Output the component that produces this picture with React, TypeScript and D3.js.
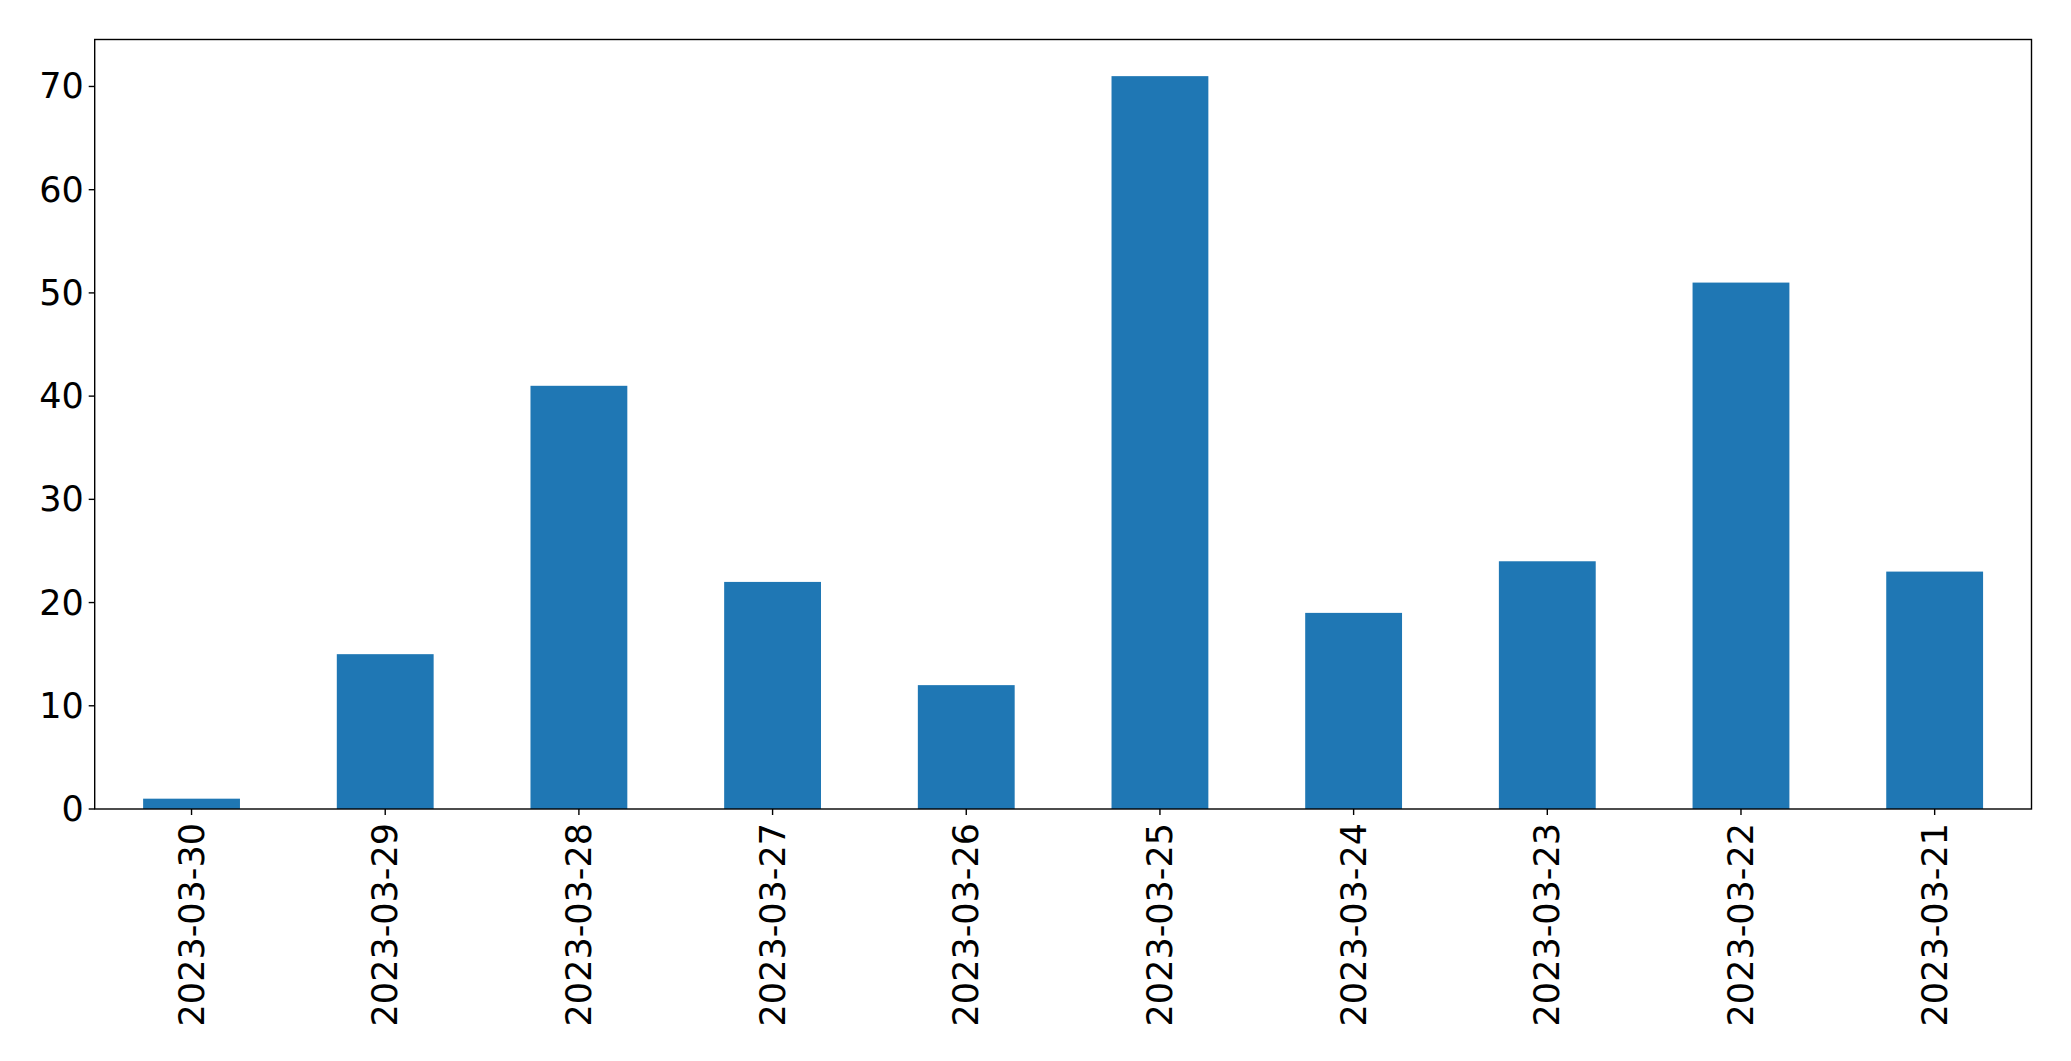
import React from "react";
import * as d3 from "d3";

const categories = ["2023-03-30", "2023-03-29", "2023-03-28", "2023-03-27", "2023-03-26", "2023-03-25", "2023-03-24", "2023-03-23", "2023-03-22", "2023-03-21"];
const values = [1, 15, 41, 22, 12, 71, 19, 24, 51, 23];
const yTicks = [0, 10, 20, 30, 40, 50, 60, 70];

const W = 2071, H = 1061;
const left = 94.7, right = 2031.5, top = 39.5, bottom = 809;
const FONT = "DejaVu Sans, sans-serif";
const FS = 35;

export default function App() {
  const x = d3.scaleLinear().domain([-0.5, categories.length - 0.5]).range([left, right]);
  const yMax = d3.max(values)! * 1.05;
  const y = d3.scaleLinear().domain([0, yMax]).range([bottom, top]);
  const bw = x(0.25) - x(-0.25);
  return (
    <svg width={W} height={H} style={{ position: "absolute", left: 0, top: 0, background: "#fff" }}>
      <rect x={0} y={0} width={W} height={H} fill="#fff" />
      {values.map((v, i) => (
        <rect key={i} x={x(i) - bw / 2} y={y(v)} width={bw} height={y(0) - y(v)} fill="#1f77b4" />
      ))}
      <rect x={left} y={top} width={right - left} height={bottom - top} fill="none" stroke="#000" strokeWidth={1.4} />
      {yTicks.map((t) => (
        <g key={t}>
          <line x1={left - 6} x2={left} y1={y(t)} y2={y(t)} stroke="#000" strokeWidth={1.4} />
          <text x={left - 11} y={y(t)} textAnchor="end" dominantBaseline="central" fontFamily={FONT} fontSize={FS} fill="#000">{t}</text>
        </g>
      ))}
      {categories.map((c, i) => (
        <g key={c}>
          <line x1={x(i)} x2={x(i)} y1={bottom} y2={bottom + 6} stroke="#000" strokeWidth={1.4} />
          <text transform={`translate(${x(i)},${bottom + 14}) rotate(-90)`} textAnchor="end" dominantBaseline="central" fontFamily={FONT} fontSize={FS} fill="#000">{c}</text>
        </g>
      ))}
    </svg>
  );
}
